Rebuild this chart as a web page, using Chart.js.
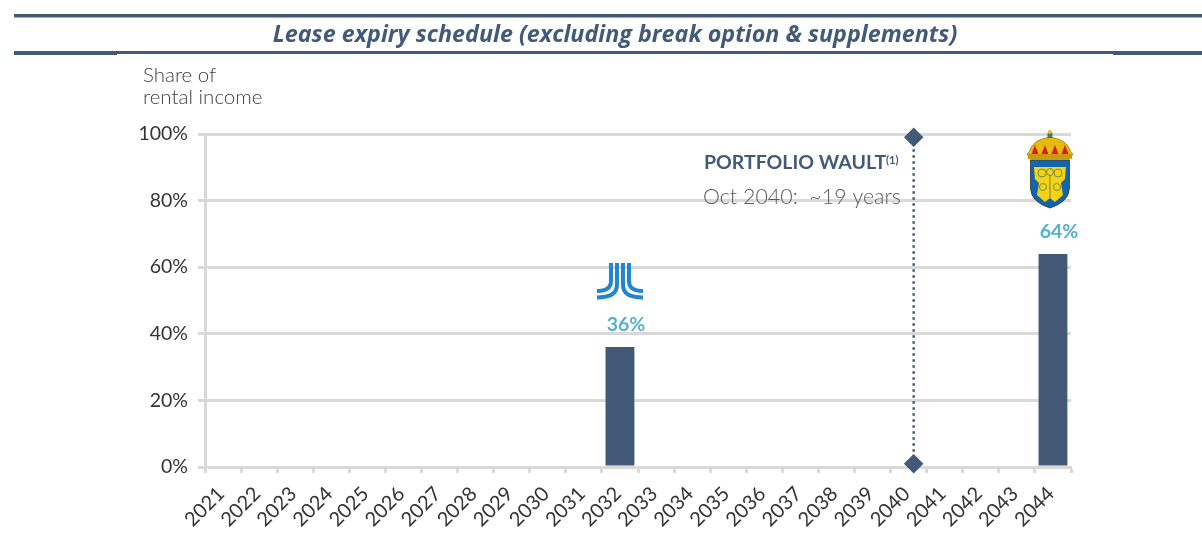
<!DOCTYPE html>
<html><head><meta charset="utf-8">
<style>html,body{margin:0;padding:0;background:#fff;overflow:hidden}#w{width:1202px;height:539px;position:relative}canvas{display:block}</style>
<script src="https://cdn.jsdelivr.net/npm/chart.js@4"></script></head>
<body><div id="w"><canvas id="c" width="1202" height="539" style="width:1202px;height:539px"></canvas></div>
<script>
const titleText = 'Lease expiry schedule (excluding break option & supplements)';
const years = ['2021','2022','2023','2024','2025','2026','2027','2028','2029','2030','2031','2032','2033','2034','2035','2036','2037','2038','2039','2040','2041','2042','2043','2044'];
const shares = [null,null,null,null,null,null,null,null,null,null,null,36,null,null,null,null,null,null,null,null,null,null,null,64];
const waultX = [2040.14,2040.14];
const waultY = [99,1];
const yTicks = [0,20,40,60,80,100];
const navy='#425a78', grey='#d9d9d9', txt='#404040', teal='#55b2cc';
const F='"Lato"';

function jlLogo(ctx,cx,top){
  ctx.save();ctx.translate(cx,top);ctx.strokeStyle='#1f86cf';ctx.lineWidth=4;ctx.lineCap='butt';
  for(const s of [-1,1]){
    ctx.beginPath();ctx.moveTo(s*9,0);ctx.lineTo(s*9,18);ctx.quadraticCurveTo(s*9,28,s*23,28);ctx.stroke();
    ctx.beginPath();ctx.moveTo(s*3,0);ctx.lineTo(s*3,22);ctx.quadraticCurveTo(s*3,34.5,s*23,34.5);ctx.stroke();
  }
  ctx.restore();
}
function arms(ctx,cx,top){
  ctx.save();ctx.translate(cx,top);
  ctx.beginPath();ctx.moveTo(-19.5,30);ctx.lineTo(19.5,30);ctx.lineTo(19.5,58);
  ctx.quadraticCurveTo(19,72,0,78);ctx.quadraticCurveTo(-19,72,-19.5,58);ctx.closePath();
  ctx.fillStyle='#1266ad';ctx.fill();ctx.strokeStyle='#333';ctx.lineWidth=.8;ctx.stroke();
  ctx.fillStyle='#f5d312';
  ctx.beginPath();ctx.moveTo(-16,37);ctx.lineTo(16,37);ctx.lineTo(15,49);ctx.lineTo(11,53);ctx.lineTo(13,65);ctx.lineTo(5,72);ctx.lineTo(0,68);ctx.lineTo(-5,72);ctx.lineTo(-13,65);ctx.lineTo(-11,53);ctx.lineTo(-15,49);ctx.closePath();ctx.fill();
  ctx.strokeStyle='#6d8a55';ctx.lineWidth=1;
  for(const [x,y,r] of [[-8,43,4],[8,43,4],[0,42,3.5],[-7,57,3.5],[7,57,3.5]]){ctx.beginPath();ctx.arc(x,y,r,0,Math.PI*2);ctx.stroke();}
  ctx.beginPath();ctx.moveTo(0,45);ctx.lineTo(0,68);ctx.stroke();
  ctx.fillStyle='#e8b90f';
  ctx.beginPath();ctx.moveTo(-21,22);ctx.quadraticCurveTo(-17,9,0,7);ctx.quadraticCurveTo(17,9,21,22);ctx.lineTo(23,24);ctx.lineTo(20,29);ctx.lineTo(-20,29);ctx.lineTo(-23,24);ctx.closePath();ctx.fill();
  ctx.strokeStyle='#8a6a10';ctx.lineWidth=.6;ctx.stroke();
  ctx.fillStyle='#d21f1f';
  for(const x of [-15,-5,5,15]){ctx.beginPath();ctx.moveTo(x,15);ctx.lineTo(x+3.5,24);ctx.lineTo(x-3.5,24);ctx.closePath();ctx.fill();}
  ctx.fillStyle='#c89a10';ctx.fillRect(-22,24,44,5);
  ctx.fillStyle='#3f7a6a';ctx.fillRect(-2.5,3,5,5);
  ctx.fillStyle='#e8b90f';ctx.beginPath();ctx.arc(0,2,2,0,Math.PI*2);ctx.fill();
  ctx.restore();
}

const deco={id:'deco',
 beforeDraw(ch){const c=ch.ctx;c.save();c.fillStyle=navy;
  c.fillRect(14,14,1188,3.5);c.fillRect(14,51,1188,3);
  c.fillRect(14,54,103,1);c.fillRect(1113,54,89,1);c.restore();},
 afterDatasetsDraw(ch){
  const c=ch.ctx,x=ch.scales.x,y=ch.scales.y,m=ch.getDatasetMeta(0);
  c.save();c.textBaseline='middle';
  c.fillStyle=navy;c.textAlign='center';c.font='italic bold 23.3px "Open Sans"';
  c.fillText(titleText,615,35);
  c.fillStyle=txt;c.textAlign='left';c.font='300 20.5px '+F;
  c.fillText('Share of',143,75);c.fillText('rental income',143,97);
  c.textAlign='center';c.fillStyle=teal;c.font='bold 19.5px '+F;
  shares.forEach((v,i)=>{if(v==null)return;const b=m.data[i];
    c.fillText(v+'%',b.x+6,y.getPixelForValue(v)-22.5);});
  const i1=years.indexOf('2032'),i2=years.indexOf('2044');
  jlLogo(c,x.getPixelForValue(i1),263);
  arms(c,x.getPixelForValue(i2)-3,130);
  c.textAlign='left';c.fillStyle=navy;c.font='bold 19.5px '+F;
  c.fillText('PORTFOLIO WAULT',704,163);
  const w=c.measureText('PORTFOLIO WAULT').width;
  c.font='bold 11px '+F;c.fillText('(1)',704+w,160);
  c.fillStyle='#5a5a5a';c.font='300 21.4px '+F;
  c.fillText('Oct 2040:  ~19 years',703,197);
  c.restore();
 }};

new Chart(document.getElementById('c'),{
 type:'bar',plugins:[deco],
 data:{labels:years,datasets:[
  {type:'bar',grouped:false,data:shares,backgroundColor:navy,barPercentage:.8,categoryPercentage:1,order:2},
  {type:'line',xAxisID:'x2',data:waultX.map((v,i)=>({x:v,y:waultY[i]})),borderColor:navy,borderWidth:2.5,borderDash:[2.5,3.5],
   pointStyle:'rectRot',pointRadius:8,pointBackgroundColor:navy,pointBorderColor:navy,fill:false,clip:false,order:1}
 ]},
 options:{responsive:false,animation:false,devicePixelRatio:1,
  layout:{padding:{left:0,right:131,top:134,bottom:0}},
  plugins:{legend:{display:false},tooltip:{enabled:false},title:{display:false}},
  scales:{
   x:{type:'category',offset:true,
    afterFit(s){s.height=72;},
    grid:{offset:true,drawOnChartArea:false,drawTicks:true,tickLength:6,tickColor:grey,tickWidth:3},
    border:{color:grey,width:3},
    ticks:{color:'#333',font:{family:F,size:20,weight:'400'},minRotation:45,maxRotation:45,autoSkip:false,padding:9,labelOffset:-2}},
   x2:{type:'linear',display:false,offset:false,min:2020.5,max:2044.5,grid:{offset:false}},
   y:{min:0,max:100,
    afterFit(s){s.width=205;},
    afterBuildTicks(s){s.ticks=yTicks.map(v=>({value:v}));},
    grid:{color:grey,lineWidth:3,tickLength:7,tickColor:grey},
    border:{color:grey,width:3},
    ticks:{color:'#333',font:{family:F,size:19.5,weight:'400'},padding:10,callback:v=>v+'%'}}
  }}
});
</script></body></html>
